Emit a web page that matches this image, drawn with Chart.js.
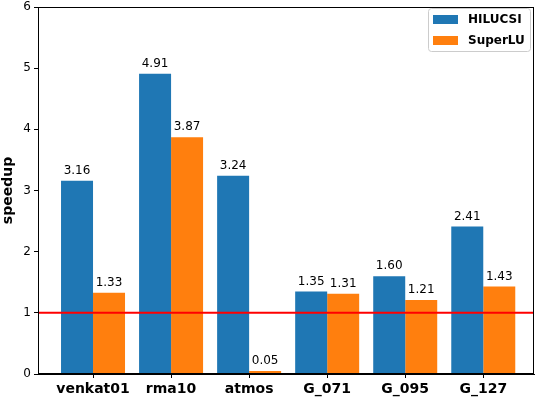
<!DOCTYPE html>
<html>
<head>
<meta charset="utf-8">
<script src="https://cdn.jsdelivr.net/npm/chart.js@4.4.0/dist/chart.umd.min.js"></script>
<style>
  html, body { margin: 0; padding: 0; background: #fff; }
  #wrap { width: 535px; height: 400px; }
</style>
</head>
<body>
<div id="wrap"><canvas id="c"></canvas></div>
<script>
// matrices and their speedups
const categories = ['venkat01', 'rma10', 'atmos', 'G_071', 'G_095', 'G_127'];
const hilucsi = [3.16, 4.91, 3.24, 1.35, 1.60, 2.41];
const superlu = [1.33, 3.87, 0.05, 1.31, 1.21, 1.43];
const yTicks = [0, 1, 2, 3, 4, 5, 6];
const refLine = 1;

const FONT = "'DejaVu Sans', sans-serif";

// value labels above each bar
const barLabels = {
  id: 'barLabels',
  afterDatasetsDraw(chart) {
    const ctx = chart.ctx;
    ctx.save();
    ctx.font = '12px ' + FONT;
    ctx.fillStyle = '#000';
    ctx.textAlign = 'center';
    ctx.textBaseline = 'bottom';
    chart.data.datasets.forEach((ds, di) => {
      chart.getDatasetMeta(di).data.forEach((bar, i) => {
        ctx.fillText(ds.data[i].y.toFixed(2), bar.x, bar.y - 4);
      });
    });
    ctx.restore();
  }
};

// red reference line, axis box and legend
const extras = {
  id: 'extras',
  afterDraw(chart) {
    const ctx = chart.ctx;
    const a = chart.chartArea;
    const yPix = chart.scales.y.getPixelForValue(refLine);
    ctx.save();
    ctx.strokeStyle = '#ff0000';
    ctx.lineWidth = 2;
    ctx.beginPath();
    ctx.moveTo(a.left, yPix);
    ctx.lineTo(a.right, yPix);
    ctx.stroke();

    ctx.strokeStyle = '#000';
    ctx.lineWidth = 1;
    ctx.strokeRect(a.left + 0.5, a.top + 0.5, a.right - a.left - 1, a.bottom - a.top - 1);

    // legend box
    const lx = 428, ly = 8, lw = 102, lh = 43;
    ctx.fillStyle = 'rgba(255,255,255,0.8)';
    ctx.strokeStyle = '#cccccc';
    ctx.beginPath();
    ctx.roundRect(lx + 0.5, ly + 0.5, lw, lh, 3);
    ctx.fill();
    ctx.stroke();
    ctx.font = 'bold 12px ' + FONT;
    ctx.textBaseline = 'middle';
    ctx.textAlign = 'left';
    chart.data.datasets.forEach((ds, i) => {
      const cy = ly + 11 + i * 21;
      ctx.fillStyle = ds.backgroundColor;
      ctx.fillRect(lx + 5, cy - 4, 25, 9);
      ctx.fillStyle = '#000';
      ctx.fillText(ds.label, lx + 40, cy + 1);
    });
    ctx.restore();
  }
};

new Chart(document.getElementById('c'), {
  type: 'bar',
  data: {
    datasets: [{
      label: 'HILUCSI',
      data: hilucsi.map((v, i) => ({ x: i, y: v })),
      backgroundColor: '#1f77b4'
    }, {
      label: 'SuperLU',
      data: superlu.map((v, i) => ({ x: i, y: v })),
      backgroundColor: '#ff7f0e'
    }]
  },
  options: {
    responsive: true,
    maintainAspectRatio: false,
    animation: false,
    categoryPercentage: 0.82,
    barPercentage: 1.0,
    layout: { padding: { top: 0, right: 1, left: 0, bottom: 0 } },
    plugins: { legend: { display: false }, tooltip: { enabled: false } },
    scales: {
      x: {
        type: 'linear',
        offset: false,
        min: -0.705,
        max: 5.65,
        afterBuildTicks: (axis) => { axis.ticks = categories.map((c, i) => ({ value: i })); },
        afterFit: (axis) => { axis.height = 26; },
        ticks: {
          callback: (v) => categories[v],
          color: '#000',
          font: { family: FONT, size: 14, weight: 'bold' },
          padding: 3,
          maxRotation: 0,
          autoSkip: false
        },
        grid: { offset: false, drawOnChartArea: false, tickLength: 4, color: '#000' },
        border: { color: '#000' }
      },
      y: {
        min: 0,
        max: 6,
        afterBuildTicks: (axis) => { axis.ticks = yTicks.map(v => ({ value: v })); },
        afterFit: (axis) => {
          axis.width = 38;
          axis.paddingTop = 7;
          axis.paddingBottom = 0;
        },
        ticks: {
          color: '#000',
          font: { family: FONT, size: 12 },
          padding: 3
        },
        grid: { drawOnChartArea: false, tickLength: 4, color: '#000' },
        border: { color: '#000' },
        title: {
          display: true,
          text: 'speedup',
          color: '#000',
          font: { family: FONT, size: 14, weight: 'bold' },
          padding: { top: 0, bottom: 0 }
        }
      }
    }
  },
  plugins: [barLabels, extras]
});
</script>
</body>
</html>
